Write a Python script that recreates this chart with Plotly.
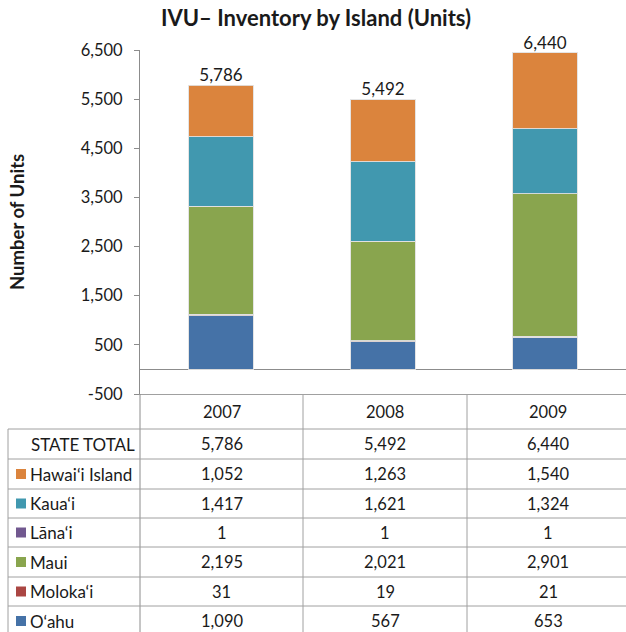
import plotly.graph_objects as go

years = ["2007", "2008", "2009"]
islands = ["O‘ahu", "Moloka‘i", "Maui", "Lāna‘i", "Kaua‘i", "Hawai‘i Island"]
oahu = [1090, 567, 653]
molokai = [31, 19, 21]
maui = [2195, 2021, 2901]
lanai = [1, 1, 1]
kauai = [1417, 1621, 1324]
hawaii = [1052, 1263, 1540]
state_total = [5786, 5492, 6440]
colors = ["#4572A7", "#AA4643", "#89A54E", "#71588F", "#4198AF", "#DB843D"]
series = [oahu, molokai, maui, lanai, kauai, hawaii]
tick_vals = [-500, 500, 1500, 2500, 3500, 4500, 5500, 6500]
tick_text = ["-500", "500", "1,500", "2,500", "3,500", "4,500", "5,500", "6,500"]

W, H = 626, 632
FONT = "Lato"
TXT = "#1a1a1a"
GRID = "#8c8c8c"
TGRID = "#a0a0a0"


def px(x):
    return x / W


def py(y):
    return 1 - y / H


fig = go.Figure()
for name, vals, c in zip(islands, series, colors):
    fig.add_trace(go.Bar(
        x=years, y=vals, name=name, width=0.4,
        marker=dict(color=c, line=dict(color="rgba(225,225,225,0.9)", width=1)),
        showlegend=False, hoverinfo="skip"))

fig.add_trace(go.Scatter(
    x=years, y=state_total, mode="text", cliponaxis=False,
    text=[f"{v:,}" for v in state_total], textposition="top center",
    textfont=dict(family=FONT, size=17, color=TXT),
    showlegend=False, hoverinfo="skip"))

fig.update_layout(
    width=W, height=H, margin=dict(l=0, r=0, t=0, b=0, autoexpand=False),
    paper_bgcolor="white", plot_bgcolor="white",
    barmode="stack",
    font=dict(family=FONT, size=15, color=TXT),
    title=dict(text="<b>IVU– Inventory by Island (Units)</b>", x=316 / W, xanchor="center",
               y=py(18), yanchor="middle", font=dict(family=FONT, size=22, color=TXT)),
)
fig.update_xaxes(domain=[px(140), 1], range=[-0.5, 2.5], showticklabels=False,
                 showline=True, linecolor=TGRID, linewidth=1, ticks="", showgrid=False)
fig.update_yaxes(domain=[py(394), py(50)], range=[-500, 6500], tickvals=tick_vals,
                 ticktext=tick_text, ticks="outside", ticklen=5, tickcolor=GRID,
                 showline=True, linecolor=GRID, linewidth=1, showgrid=False,
                 zeroline=True, zerolinecolor=GRID, zerolinewidth=1.3,
                 ticklabelstandoff=8, automargin=False,
                 tickfont=dict(family=FONT, size=16.5, color=TXT))

fig.add_annotation(text="<b>Number of Units</b>", xref="paper", yref="paper",
                   x=px(17), y=py(222), xanchor="center", yanchor="middle",
                   textangle=-90, showarrow=False,
                   font=dict(family=FONT, size=18.5, color=TXT))

shapes = []
line = dict(color=TGRID, width=1)
shapes.append(dict(type="line", xref="paper", yref="paper", x0=px(140), x1=px(140), y0=py(394), y1=0, line=dict(color=GRID, width=1)))
for xv in [303, 467]:
    shapes.append(dict(type="line", xref="paper", yref="paper", x0=px(xv), x1=px(xv), y0=py(394), y1=0, line=line))
shapes.append(dict(type="line", xref="paper", yref="paper", x0=px(8), x1=px(8), y0=py(429), y1=0, line=line))
row_lines = [429, 459, 489, 518, 547, 577, 606]
for yv in row_lines:
    shapes.append(dict(type="line", xref="paper", yref="paper", x0=px(8), x1=1, y0=py(yv), y1=py(yv), line=line))


def label(text, x, y, xanchor="center", size=16.5):
    fig.add_annotation(text=text, xref="paper", yref="paper", x=x, y=y,
                       xanchor=xanchor, yanchor="middle", showarrow=False,
                       font=dict(family=FONT, size=size, color=TXT))


col_x = [221.5, 385, 548]
for cx, yr in zip(col_x, years):
    label(yr, px(cx), py(412))

row_centers = [444, 474, 503.5, 532.5, 562, 591.5, 621]
row_names = ["STATE TOTAL", "Hawai‘i Island", "Kaua‘i", "Lāna‘i", "Maui", "Moloka‘i", "O‘ahu"]
row_vals = [state_total, hawaii, kauai, lanai, maui, molokai, oahu]
row_cols = [None, colors[5], colors[4], colors[3], colors[2], colors[1], colors[0]]

for yc, nm, vals, col in zip(row_centers, row_names, row_vals, row_cols):
    if col is None:
        label(nm, px(137), py(yc), xanchor="right", size=17)
    else:
        shapes.append(dict(type="rect", xref="paper", yref="paper", x0=px(16), x1=px(26),
                           y0=py(yc + 5), y1=py(yc - 5), fillcolor=col, line=dict(width=0)))
        label(nm, px(28), py(yc), xanchor="left", size=17)
    for cx, v in zip(col_x, vals):
        label(f"{v:,}", px(cx), py(yc))

fig.update_layout(shapes=shapes)
fig.write_html("out.html", config={"displayModeBar": False},
               post_script="document.body.style.margin='0';")
